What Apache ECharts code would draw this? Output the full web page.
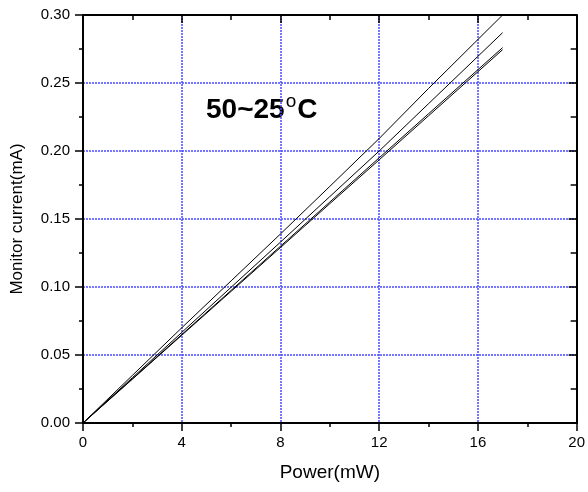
<!DOCTYPE html>
<html>
<head>
<meta charset="utf-8">
<script src="https://cdn.jsdelivr.net/npm/echarts@6/dist/echarts.min.js"></script>
<style>
html,body{margin:0;padding:0;background:#fff;}
#c{width:588px;height:492px;}
</style>
</head>
<body>
<div id="c"></div>
<script>
// Power (mW) sample points
const power = [0, 2, 4, 6, 8, 10, 12, 14, 16, 17];
// Monitor current (mA) for the four curves
const curve1 = [0, 0.0350, 0.0700, 0.1045, 0.1390, 0.1740, 0.2092, 0.2460, 0.2820, 0.3000];
const curve2 = [0, 0.0333, 0.0666, 0.0998, 0.1330, 0.1665, 0.2000, 0.2348, 0.2696, 0.2870];
const curve3 = [0, 0.0325, 0.0650, 0.0975, 0.1300, 0.1625, 0.1950, 0.2274, 0.2598, 0.2760];
const curve4 = [0, 0.0322, 0.0645, 0.0968, 0.1290, 0.1613, 0.1935, 0.2259, 0.2583, 0.2745];
const curves = [curve1, curve2, curve3, curve4];
const xTicks = [0, 4, 8, 12, 16, 20];
const yTicks = [0, 0.05, 0.10, 0.15, 0.20, 0.25, 0.30];
const annotation = ['50~25', 'o', 'C'];

const font = 'Liberation Sans, Arial, sans-serif';
const chart = echarts.init(document.getElementById('c'), null, {renderer: 'canvas'});

const gridLine = {show: true, lineStyle: {color: '#4a4aff', type: [2, 1], width: 1.5, opacity: 1}};
const axLine = {show: true, onZero: false, lineStyle: {color: '#000', width: 2}};

chart.setOption({
  animation: false,
  backgroundColor: '#fff',
  grid: {left: 83, right: 10, top: 15, bottom: 69},
  xAxis: [{
    type: 'value', position: 'bottom',
    min: xTicks[0], max: xTicks[xTicks.length - 1], interval: xTicks[1] - xTicks[0],
    axisLine: axLine,
    axisTick: {show: true, length: 8, lineStyle: {color: '#000', width: 1.5}},
    minorTick: {show: true, splitNumber: 2, length: 4, lineStyle: {color: '#000', width: 1.5}},
    splitLine: gridLine,
    minorSplitLine: {show: false},
    axisLabel: {color: '#000', fontSize: 15, fontFamily: font, margin: 12},
    name: 'Power(mW)', nameLocation: 'middle', nameGap: 40,
    nameTextStyle: {color: '#000', fontSize: 19, fontFamily: font}
  }, {
    type: 'value', position: 'top',
    min: xTicks[0], max: xTicks[xTicks.length - 1], interval: xTicks[1] - xTicks[0],
    axisLine: axLine,
    axisTick: {show: true, inside: true, length: 8, lineStyle: {color: '#000', width: 1.5}},
    minorTick: {show: true, splitNumber: 2, length: 5, lineStyle: {color: '#000', width: 1.5}},
    splitLine: {show: false},
    minorSplitLine: {show: false},
    axisLabel: {show: false}
  }],
  yAxis: [{
    type: 'value', position: 'left',
    min: yTicks[0], max: yTicks[yTicks.length - 1], interval: 0.05,
    axisLine: axLine,
    axisTick: {show: true, length: 8, lineStyle: {color: '#000', width: 1.5}},
    minorTick: {show: true, splitNumber: 2, length: 4, lineStyle: {color: '#000', width: 1.5}},
    splitLine: gridLine,
    minorSplitLine: {show: false},
    axisLabel: {color: '#000', fontSize: 15, fontFamily: font, margin: 13,
      formatter: v => v.toFixed(2)},
    name: 'Monitor current(mA)', nameLocation: 'middle', nameGap: 57,
    nameTextStyle: {color: '#000', fontSize: 17, fontFamily: font}
  }, {
    type: 'value', position: 'right',
    min: yTicks[0], max: yTicks[yTicks.length - 1], interval: 0.05,
    axisLine: axLine,
    axisTick: {show: true, inside: true, length: 8, lineStyle: {color: '#000', width: 1.5}},
    minorTick: {show: true, splitNumber: 2, length: 6, lineStyle: {color: '#000', width: 1.5}},
    splitLine: {show: false},
    minorSplitLine: {show: false},
    axisLabel: {show: false}
  }],
  series: curves.map(c => ({
    type: 'line',
    xAxisIndex: 0, yAxisIndex: 0,
    data: power.map((p, i) => [p, c[i]]),
    showSymbol: false, symbol: 'none',
    lineStyle: {color: '#000', width: 1},
    clip: true
  })),
  graphic: [{
    type: 'text',
    left: 206, top: 92,
    style: {
      text: '{a|' + annotation[0] + '}{b|' + annotation[1] + '}{a|' + annotation[2] + '}',
      rich: {
        a: {fontSize: 28, fontWeight: 'bold', fontFamily: font, fill: '#000', lineHeight: 32, verticalAlign: 'bottom'},
        b: {fontSize: 19, fontFamily: font, fill: '#000', lineHeight: 32, verticalAlign: 'top', padding: [0, 1, 0, 1]}
      }
    }
  }]
});
</script>
</body>
</html>
